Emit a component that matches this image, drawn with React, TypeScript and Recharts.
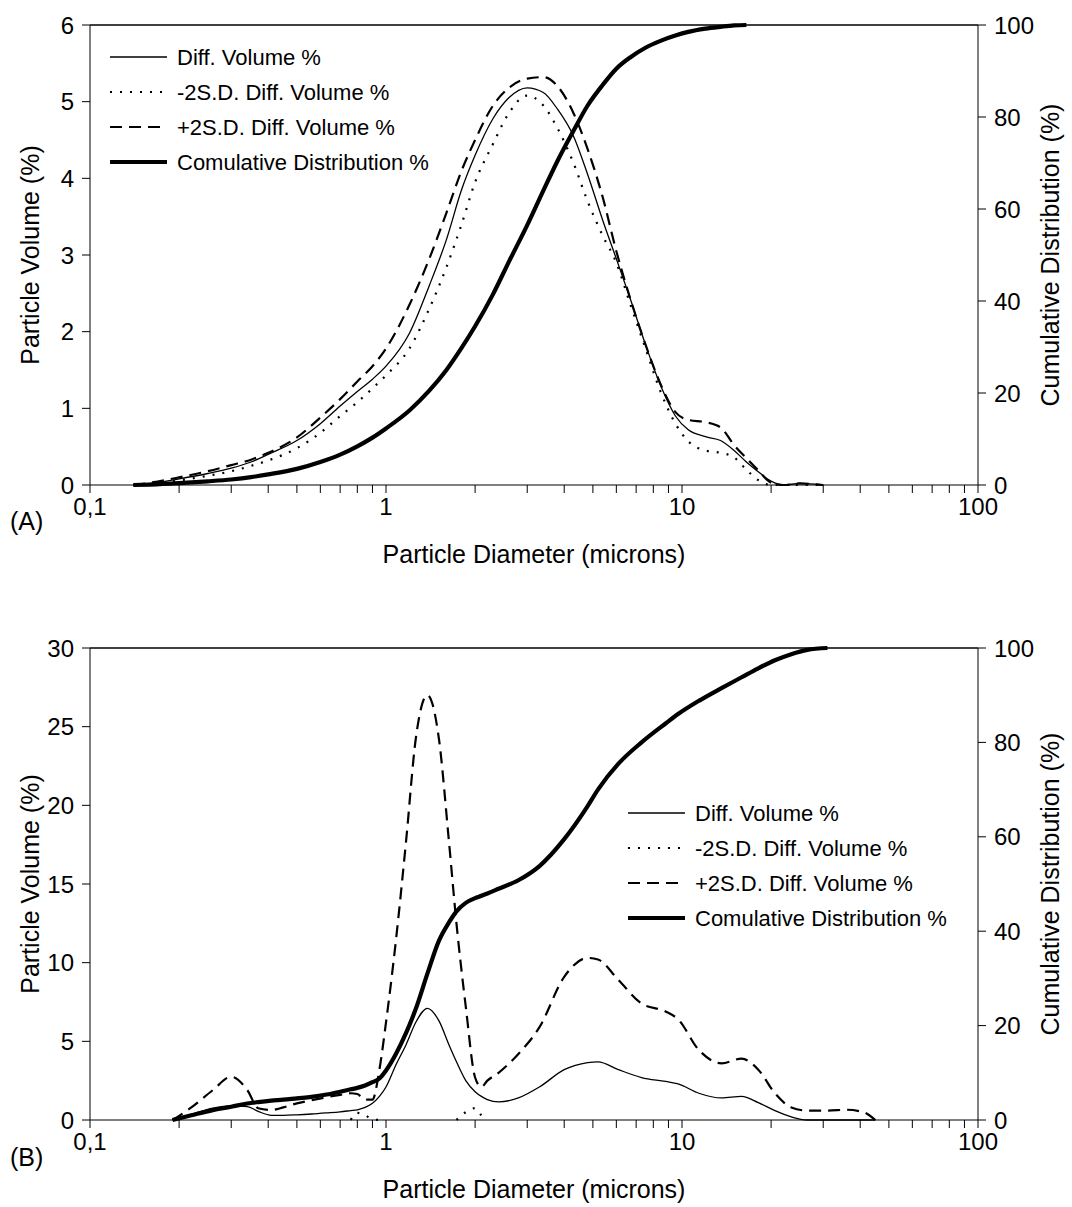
import React from "react";
import {
  ComposedChart,
  Legend,
  Line,
  ReferenceLine,
  XAxis,
  YAxis
} from "recharts";

// panel A: particle diameter grid (microns) and curves
const diameterA = [0.14, 0.16, 0.2, 0.25, 0.3, 0.35, 0.4, 0.5, 0.6, 0.7, 0.8, 0.9, 1.0, 1.2, 1.4, 1.6, 1.8, 2.0, 2.3, 2.6, 3.0, 3.4, 3.8, 4.3, 4.8, 5.4, 6.0, 6.7, 7.5, 8.5, 9.5, 10.5, 12, 13.5, 15, 16.5, 18, 20, 22, 25, 30];
const diffA = [0, 0.02, 0.08, 0.15, 0.22, 0.3, 0.4, 0.58, 0.8, 1.03, 1.22, 1.38, 1.55, 1.98, 2.6, 3.2, 3.85, 4.3, 4.78, 5.05, 5.18, 5.12, 4.9, 4.55, 4.05, 3.45, 2.95, 2.42, 1.85, 1.28, 0.9, 0.72, 0.63, 0.58, 0.45, 0.3, 0.18, 0.05, 0, 0.02, 0];
const minusA = [0, 0.01, 0.06, 0.12, 0.18, 0.25, 0.32, 0.48, 0.68, 0.9, 1.08, 1.26, 1.43, 1.78, 2.3, 2.84, 3.4, 3.95, 4.45, 4.85, 5.08, 4.95, 4.65, 4.2, 3.7, 3.25, 2.9, 2.35, 1.8, 1.2, 0.8, 0.57, 0.45, 0.42, 0.36, 0.2, 0.07, 0, 0, 0, 0];
const plusA = [0, 0.03, 0.1, 0.18, 0.26, 0.33, 0.42, 0.62, 0.88, 1.12, 1.35, 1.55, 1.78, 2.35, 2.95, 3.55, 4.1, 4.5, 4.95, 5.18, 5.3, 5.32, 5.2, 4.85, 4.38, 3.75, 3.05, 2.42, 1.85, 1.3, 0.95, 0.85, 0.82, 0.75, 0.52, 0.35, 0.2, 0.03, 0, 0.02, 0];
const cumA = [0, 0.1, 0.4, 0.8, 1.2, 1.7, 2.3, 3.5, 5.0, 6.6, 8.4, 10.3, 12.3, 16.2, 20.5, 25, 29.8, 34.5, 41.5, 48.5, 56.5, 64, 70.5, 77, 82.5, 87, 90.5, 93, 95, 96.6, 97.7, 98.5, 99.2, 99.6, 99.9, 100, null, null, null, null, null];

// panel B
const diameterB = [0.19, 0.22, 0.26, 0.3, 0.34, 0.37, 0.41, 0.45, 0.5, 0.56, 0.63, 0.7, 0.76, 0.8, 0.85, 0.9, 0.95, 1.0, 1.08, 1.17, 1.26, 1.38, 1.51, 1.63, 1.73, 1.86, 2.0, 2.1, 2.2, 2.4, 2.8, 3.3, 4.0, 4.8, 5.2, 6.1, 7.3, 8.8, 9.7, 11.4, 13.6, 15.9, 18.1, 20.6, 23.4, 26.5, 31, 36, 41, 45];
const diffB = [0, 0.35, 0.75, 0.9, 0.85, 0.55, 0.3, 0.3, 0.33, 0.38, 0.45, 0.52, 0.6, 0.65, 0.8, 1.06, 1.5, 2.1, 3.5, 4.8, 6.2, 7.1, 6.3, 4.8, 3.7, 2.5, 1.8, 1.5, 1.3, 1.15, 1.4, 2.1, 3.2, 3.65, 3.7, 3.2, 2.7, 2.45, 2.3, 1.7, 1.4, 1.5, 1.1, 0.6, 0.2, 0, 0, 0, 0, 0];
const minusB = [null, null, null, null, null, null, null, null, null, null, null, null, 0, 0.45, 0.3, 0.05, 0, null, null, null, null, null, null, null, 0, 0.5, 0.75, 0.3, 0, null, null, null, null, null, null, null, null, null, null, null, null, null, null, null, null, null, null, null, null, null];
const plusB = [0, 0.8, 1.9, 2.75, 1.9, 0.75, 0.64, 0.8, 1.06, 1.25, 1.45, 1.6, 1.7, 1.65, 1.3, 1.3, 3.2, 6.2, 11.4, 17.8, 24.2, 27.0, 24.2, 17.8, 12.5, 7.2, 2.7, 2.1, 2.5, 3.0, 4.2, 5.9, 9.1, 10.3, 10.2, 8.9, 7.4, 6.9, 6.4, 4.45, 3.6, 3.9, 3.2, 1.7, 0.8, 0.6, 0.6, 0.65, 0.5, 0];
const cumB = [0, 1.0, 2.1, 2.8, 3.5, 3.8, 4.1, 4.3, 4.6, 4.9, 5.4, 6.0, 6.5, 6.8, 7.3, 8.0, 8.8, 10.5, 14, 18.5, 23.5, 31, 38, 41.8, 44.2, 46, 47, 47.5, 48, 49, 50.8, 53.8, 59.5, 66.5, 70, 75.5, 80, 84, 86, 88.8, 91.5, 93.8, 95.7, 97.4, 98.7, 99.6, 100, null, null, null];

const xMajor = [0.1, 1, 10, 100];
const xMajorLabels = ["0,1", "1", "10", "100"];
const yTicksA = [0, 1, 2, 3, 4, 5, 6];
const yTicksB = [0, 5, 10, 15, 20, 25, 30];
const cumTicks = [0, 20, 40, 60, 80, 100];

const xTicks = [0.1, 1, 10]
  .flatMap((dec) => [1, 2, 3, 4, 5, 6, 7, 8, 9].map((k) => +(dec * k).toPrecision(3)))
  .concat(100);

const fmtX = (v: number) => {
  const i = xMajor.findIndex((m) => Math.abs(m - v) < 1e-9);
  return i >= 0 ? xMajorLabels[i] : "";
};

const series = [
  { key: "diff", name: "Diff. Volume %", width: 1.3, dash: undefined as string | undefined, axis: "left" },
  { key: "minus", name: "-2S.D. Diff. Volume %", width: 2.2, dash: "2 8", axis: "left" },
  { key: "plus", name: "+2S.D. Diff. Volume %", width: 2.2, dash: "12 7", axis: "left" },
  { key: "cum", name: "Comulative Distribution %", width: 4.2, dash: undefined as string | undefined, axis: "right" },
];

const buildRows = (d: number[], diff: any[], minus: any[], plus: any[], cum: any[]) =>
  d.map((x, i) => ({ d: x, diff: diff[i], minus: minus[i], plus: plus[i], cum: cum[i] }));

const rowsA = buildRows(diameterA, diffA, minusA, plusA, cumA);
const rowsB = buildRows(diameterB, diffB, minusB, plusB, cumB);

const LegendBox = () => (
  <svg width={420} height={145} style={{ display: "block", overflow: "visible" }}>
    {series.map((s, i) => (
      <g key={s.key}>
        <line x1={5} x2={62} y1={17 + i * 35} y2={17 + i * 35} stroke="#000" strokeWidth={s.width} strokeDasharray={s.dash} />
        <text x={72} y={17 + i * 35} dominantBaseline="central" fontSize={22} fill="#000">
          {s.name}
        </text>
      </g>
    ))}
  </svg>
);

interface PanelProps {
  rows: any[];
  yMax: number;
  yTicks: number[];
  top: number;
  plotH: number;
  height: number;
  xLabelOffset: number;
  legendLeft: number;
  legendTop: number;
}

const Panel = ({ rows, yMax, yTicks, top, plotH, height, xLabelOffset, legendLeft, legendTop }: PanelProps) => (
  <ComposedChart width={1072} height={height} data={rows} margin={{ top, right: 0, bottom: 0, left: 0 }}>
    <XAxis
      dataKey="d"
      type="number"
      scale="log"
      domain={[0.1, 100]}
      allowDataOverflow
      ticks={xTicks}
      interval={0}
      tickFormatter={fmtX}
      tickSize={8}
      tickMargin={5}
      height={height - top - plotH}
      stroke="#000"
      tickLine={{ stroke: "#000" }}
      tick={{ fill: "#000", fontSize: 24 }}
      label={{ value: "Particle Diameter (microns)", position: "insideBottom", offset: xLabelOffset, fill: "#000", fontSize: 25 }}
    />
    <YAxis
      yAxisId="left"
      domain={[0, yMax]}
      ticks={yTicks}
      interval={0}
      width={90}
      tickSize={8}
      tickMargin={8}
      stroke="#000"
      tick={{ fill: "#000", fontSize: 24 }}
      label={{ value: "Particle Volume (%)", angle: -90, position: "insideLeft", offset: 30, fill: "#000", fontSize: 25, style: { textAnchor: "middle" } }}
    />
    <YAxis
      yAxisId="right"
      orientation="right"
      domain={[0, 100]}
      ticks={cumTicks}
      interval={0}
      width={94}
      tickSize={8}
      tickMargin={8}
      stroke="#000"
      tick={{ fill: "#000", fontSize: 24 }}
      label={{ value: "Cumulative Distribution (%)", angle: -90, position: "insideRight", offset: 22, fill: "#000", fontSize: 25, style: { textAnchor: "middle" } }}
    />
    <ReferenceLine yAxisId="left" y={yMax} stroke="#000" strokeWidth={1.5} />
    {series.map((s) => (
      <Line
        key={s.key}
        yAxisId={s.axis}
        dataKey={s.key}
        name={s.name}
        type="monotone"
        stroke="#000"
        strokeWidth={s.width}
        strokeDasharray={s.dash}
        dot={false}
        activeDot={false}
        isAnimationActive={false}
      />
    ))}
    <Legend
      layout="vertical"
      align="center"
      verticalAlign="middle"
      content={() => <LegendBox />}
      wrapperStyle={{ left: legendLeft, top: legendTop, width: 420, height: 145 }}
    />
  </ComposedChart>
);

const tag: React.CSSProperties = { position: "absolute", left: 10, fontSize: 25, lineHeight: "25px", color: "#000" };

export default function App() {
  return (
    <div
      style={{
        position: "absolute",
        left: 0,
        top: 0,
        width: 1072,
        height: 1207,
        background: "#fff",
        fontFamily: "'Liberation Sans', Arial, sans-serif",
      }}
    >
      <div style={{ position: "absolute", left: 0, top: 0 }}>
        <Panel rows={rowsA} yMax={6} yTicks={yTicksA} top={25} plotH={460} height={575} xLabelOffset={12} legendLeft={105} legendTop={40} />
      </div>
      <div style={{ position: "absolute", left: 0, top: 600 }}>
        <Panel rows={rowsB} yMax={30} yTicks={yTicksB} top={48} plotH={472} height={607} xLabelOffset={9} legendLeft={623} legendTop={196} />
      </div>
      <div style={{ ...tag, top: 509 }}>(A)</div>
      <div style={{ ...tag, top: 1145 }}>(B)</div>
    </div>
  );
}
